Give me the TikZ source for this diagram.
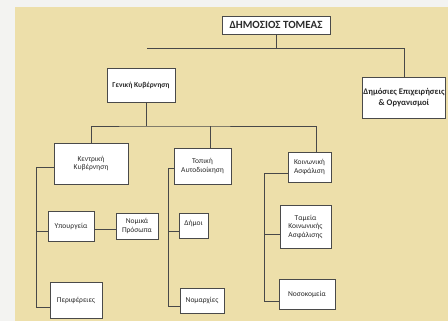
\documentclass[tikz,border=0pt]{standalone}
\usepackage{fontspec}
\setmainfont{Carlito}
\usetikzlibrary{positioning}

\begin{document}
\begin{tikzpicture}[x=1pt, y=-1pt,
    caja/.style={draw=cBorde, fill=white, line width=0.7pt, inner sep=1pt, align=center, text=cTexto, font=\fontsize{7.5}{8.5}\selectfont},
    cajab/.style={caja, font=\fontsize{7.5}{9}\selectfont\bfseries},
    linea/.style={draw=cLinea, line width=0.9pt}]

\definecolor{cFondo}{HTML}{EDDFAA}
\definecolor{cMargen}{HTML}{F3F3F1}
\definecolor{cBorde}{HTML}{4A4A4A}
\definecolor{cLinea}{HTML}{484848}
\definecolor{cTexto}{HTML}{2A2A2A}

% FONDO
\fill[cMargen] (0,0) rectangle (448,321);
\fill[cFondo] (15,7) rectangle (448,321);
\useasboundingbox (0,0) rectangle (448,321);

% Nivel 1
\node[caja, font=\fontsize{11}{12}\selectfont\bfseries, minimum width=108pt, minimum height=18pt] (tomeas) at (276,25) {ΔΗΜΟΣΙΟΣ ΤΟΜΕΑΣ};

% Nivel 2
\node[cajab, minimum width=68pt, minimum height=34pt] (genkyv) at (141,85) {Γενική Κυβέρνηση};
\node[cajab, font=\fontsize{8.6}{11}\selectfont\bfseries, anchor=west, minimum height=41pt] (dimepix) at (362,97.5) {Δημόσιες Επιχειρήσεις\\\& Οργανισμοί};

% Nivel 3
\node[caja, minimum width=74pt, minimum height=41pt] (kentr) at (91,163.5) {Κεντρική\\Κυβέρνηση};
\node[caja, minimum width=57pt, minimum height=36pt] (topiki) at (202.5,166) {Τοπική\\Αυτοδιοίκηση};
\node[caja, minimum width=43pt, minimum height=30pt] (koinas) at (309.5,167) {Κοινωνική\\Ασφάλιση};

% Nivel 4
\node[caja, minimum width=46pt, minimum height=30pt] (ypourg) at (71,226) {Υπουργεία};
\node[caja, minimum width=42pt, minimum height=26pt] (nomik) at (137,226) {Νομικά\\Πρόσωπα};
\node[caja, minimum width=52pt, minimum height=36pt] (perif) at (76,300) {Περιφέρειες};
\node[caja, minimum width=29pt, minimum height=25pt, text depth=5pt] (dimoi) at (193.5,225.5) {Δήμοι};
\node[caja, minimum width=44pt, minimum height=25pt] (nomar) at (202,300.5) {Νομαρχίες};
\node[caja, minimum width=51pt, minimum height=43pt] (tameia) at (305.5,226.5) {Ταμεία\\Κοινωνικής\\Ασφάλισης};
\node[caja, minimum width=56pt, minimum height=30pt] (nosok) at (307,294) {Νοσοκομεία};

% Conectores nivel 1
\coordinate (izq) at (147,48);
\coordinate (der) at (404,48);
\draw[linea] (izq) -| (tomeas.south);
\draw[linea] (tomeas.south |- izq) -- (der) -- (der |- dimepix.north);

% Conectores nivel 2
\coordinate (gj) at (146,126);
\draw[linea] ([xshift=5pt]genkyv.south) -- (gj);
\draw[linea] (kentr.north) |- (gj) -| ([xshift=6.5pt]koinas.north);
\draw[linea] ([xshift=7.5pt]topiki.north) -- ([xshift=7.5pt]topiki.north |- gj);

% Rama izquierda
\draw[linea] ([yshift=-3.5pt]kentr.west) -- ++(-17,0) coordinate (kb) |- ([yshift=-7pt]perif.west);
\draw[linea] ([yshift=-5pt]ypourg.west) -- ([yshift=-5pt]ypourg.west -| kb);
\draw[linea] ([yshift=-3pt]ypourg.east) -- ([yshift=-3pt]ypourg.east -| nomik.west);

% Rama central
\draw[linea] ([yshift=-2pt]topiki.west) -- ++(-5,0) coordinate (tb) |- ([yshift=-5.5pt]nomar.west);
\draw[linea] ([yshift=-5.5pt]dimoi.west) -- ([yshift=-5.5pt]dimoi.west -| tb);

% Rama derecha
\draw[linea] ([yshift=-6pt]koinas.west) -- ++(-23,0) coordinate (kob) |- ([yshift=-7pt]nosok.west);
\draw[linea] ([yshift=-7.5pt]tameia.west) -- ([yshift=-7.5pt]tameia.west -| kob);

\end{tikzpicture}
\end{document}
